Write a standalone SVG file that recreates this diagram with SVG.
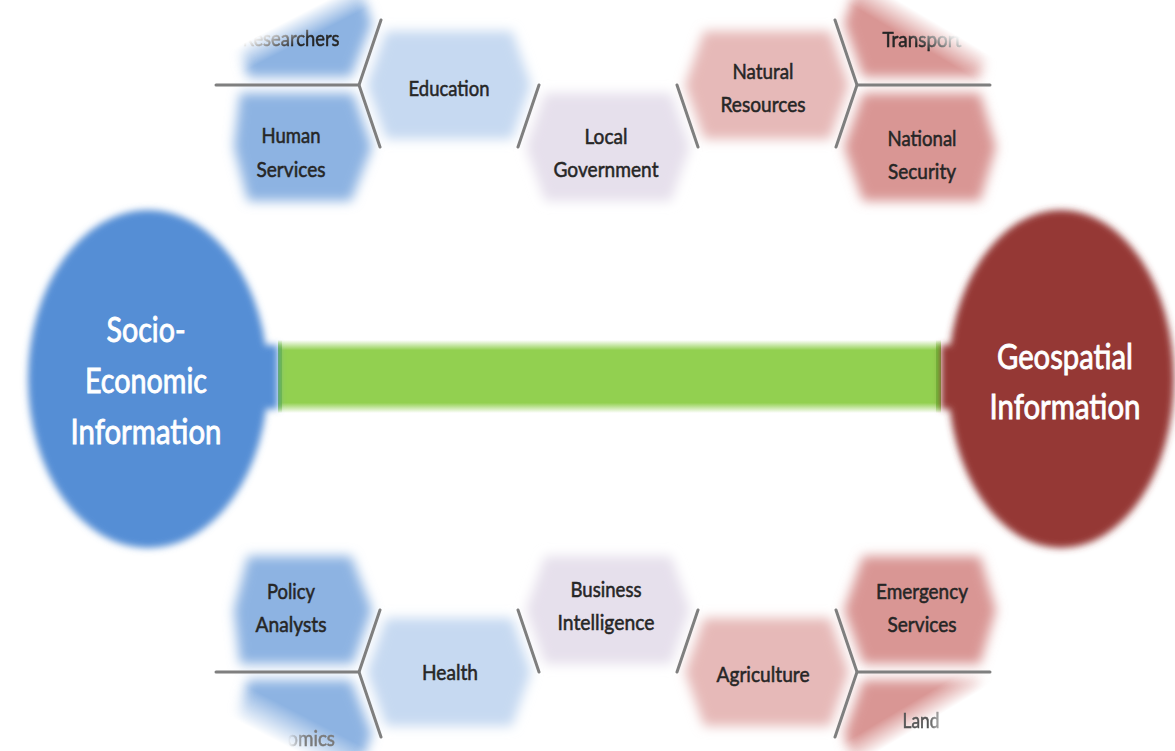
<svg xmlns="http://www.w3.org/2000/svg" width="1175" height="751" viewBox="0 0 1175 751">
<style>
.t{font-family:Lato,"Open Sans","Liberation Sans",sans-serif;font-size:22px;fill:#262626;stroke:#262626;stroke-width:0.55;text-anchor:middle}
.big{font-family:Lato,"Open Sans","Liberation Sans",sans-serif;font-size:35px;fill:#ffffff;stroke:#ffffff;stroke-width:0.9;text-anchor:middle}
.ln{stroke:#7f7f7f;stroke-width:3;fill:none;stroke-linecap:round}
.hs{fill:#8db3e2}
.ed{fill:#c6d9f1}
.lg{fill:#e6e0ec}
.nr{fill:#e6b9b8}
.ns{fill:#d99694}
</style>
<defs>
<filter id="soft" x="-30%" y="-30%" width="160%" height="160%"><feGaussianBlur stdDeviation="6"/></filter>
<filter id="soft2" x="-10%" y="-10%" width="120%" height="120%"><feGaussianBlur stdDeviation="3.5"/></filter>
<filter id="lnb" x="-10%" y="-10%" width="120%" height="120%"><feGaussianBlur stdDeviation="0.6"/></filter>
<linearGradient id="gBar" x1="0" y1="0" x2="0" y2="1">
<stop offset="0" stop-color="#92d050" stop-opacity="0"/>
<stop offset="0.14" stop-color="#92d050"/>
<stop offset="0.86" stop-color="#92d050"/>
<stop offset="1" stop-color="#92d050" stop-opacity="0"/>
</linearGradient>
<linearGradient id="gStrip" x1="0" y1="0" x2="0" y2="1">
<stop offset="0" stop-color="#70bd3a" stop-opacity="0"/>
<stop offset="0.14" stop-color="#70bd3a"/>
<stop offset="0.86" stop-color="#70bd3a"/>
<stop offset="1" stop-color="#70bd3a" stop-opacity="0"/>
</linearGradient>
<linearGradient id="lfL" gradientUnits="userSpaceOnUse" x1="216" y1="0" x2="240" y2="0">
<stop offset="0" stop-color="#7f7f7f" stop-opacity="0"/><stop offset="1" stop-color="#7f7f7f"/>
</linearGradient>
<linearGradient id="lfR" gradientUnits="userSpaceOnUse" x1="990" y1="0" x2="958" y2="0">
<stop offset="0" stop-color="#7f7f7f" stop-opacity="0"/><stop offset="1" stop-color="#7f7f7f"/>
</linearGradient>
<linearGradient id="mgTL" gradientUnits="userSpaceOnUse" x1="80.5" y1="155.75" x2="69" y2="133.5">
<stop offset="0" stop-color="#fff"/><stop offset="1" stop-color="#000"/>
</linearGradient>
<linearGradient id="mgTR" gradientUnits="userSpaceOnUse" x1="219.3" y1="-369.8" x2="233.6" y2="-393.9">
<stop offset="0" stop-color="#fff"/><stop offset="1" stop-color="#000"/>
</linearGradient>
<linearGradient id="mgBL" gradientUnits="userSpaceOnUse" x1="-227.7" y1="440.6" x2="-243.8" y2="471.7">
<stop offset="0" stop-color="#fff"/><stop offset="1" stop-color="#000"/>
</linearGradient>
<linearGradient id="mgBLt" gradientUnits="userSpaceOnUse" x1="306" y1="0" x2="288" y2="0">
<stop offset="0" stop-color="#fff"/><stop offset="1" stop-color="#000"/>
</linearGradient>
<linearGradient id="mgBR" gradientUnits="userSpaceOnUse" x1="545.7" y1="920.2" x2="558.5" y2="941.7">
<stop offset="0" stop-color="#fff"/><stop offset="1" stop-color="#000"/>
</linearGradient>
<linearGradient id="mgBRt" gradientUnits="userSpaceOnUse" x1="928" y1="0" x2="950" y2="0">
<stop offset="0" stop-color="#fff"/><stop offset="1" stop-color="#000"/>
</linearGradient>
<mask id="mTL" maskUnits="userSpaceOnUse" x="0" y="-100" width="1175" height="951"><rect x="0" y="-100" width="1175" height="951" fill="url(#mgTL)"/></mask>
<mask id="mTR" maskUnits="userSpaceOnUse" x="0" y="-100" width="1175" height="951"><rect x="0" y="-100" width="1175" height="951" fill="url(#mgTR)"/></mask>
<mask id="mBL" maskUnits="userSpaceOnUse" x="0" y="-100" width="1175" height="951"><rect x="0" y="-100" width="1175" height="951" fill="url(#mgBL)"/></mask>
<mask id="mBLt" maskUnits="userSpaceOnUse" x="0" y="-100" width="1175" height="951"><rect x="0" y="-100" width="1175" height="951" fill="url(#mgBLt)"/></mask>
<mask id="mBR" maskUnits="userSpaceOnUse" x="0" y="-100" width="1175" height="951"><rect x="0" y="-100" width="1175" height="951" fill="url(#mgBR)"/></mask>
<mask id="mBRt" maskUnits="userSpaceOnUse" x="0" y="-100" width="1175" height="951"><rect x="0" y="-100" width="1175" height="951" fill="url(#mgBRt)"/></mask>
</defs>
<rect width="1175" height="751" fill="#ffffff"/>

<!-- connector: green bar between the two ellipses -->
<g id="connectors">
<rect x="278" y="340" width="663" height="73" fill="url(#gBar)"/>
<rect x="278" y="340" width="4" height="73" fill="url(#gStrip)"/>
<rect x="936" y="340" width="5" height="73" fill="url(#gStrip)"/>
</g>

<g id="socio-economic">
<g filter="url(#soft2)" fill="#558ed5">
<ellipse cx="148" cy="379" rx="120" ry="169"/>
<rect x="236" y="345" width="42" height="64"/>
</g>
<text class="big" x="146" y="342" textLength="79" lengthAdjust="spacingAndGlyphs">Socio-</text>
<text class="big" x="146" y="393" textLength="122" lengthAdjust="spacingAndGlyphs">Economic</text>
<text class="big" x="146" y="444" textLength="151" lengthAdjust="spacingAndGlyphs">Information</text>
</g>

<g id="geospatial">
<g filter="url(#soft2)" fill="#953735">
<ellipse cx="1061" cy="379" rx="113" ry="169"/>
<rect x="941" y="345" width="40" height="64"/>
</g>
<text class="big" x="1065" y="369" textLength="136" lengthAdjust="spacingAndGlyphs">Geospatial</text>
<text class="big" x="1065" y="419" textLength="151" lengthAdjust="spacingAndGlyphs">Information</text>
</g>

<!-- top cluster -->
<g id="researchers" mask="url(#mTL)">
<polygon class="hs" filter="url(#soft)" points="232,23 248,-31 353,-31 372,23 351,77 248,77"/>
<text class="t" x="291" y="46" textLength="97" lengthAdjust="spacingAndGlyphs">Researchers</text>
</g>
<g id="human-services">
<polygon class="hs" filter="url(#soft)" points="240,93 353,93 372,147 351,201 248,201 234,147"/>
<text class="t" x="291" y="143" textLength="59" lengthAdjust="spacingAndGlyphs">Human</text>
<text class="t" x="291" y="177" textLength="69" lengthAdjust="spacingAndGlyphs">Services</text>
</g>
<g id="education">
<polygon class="ed" filter="url(#soft)" points="367,85 386,31 512,31 531,85 512,139 386,139"/>
<text class="t" x="449" y="96" textLength="81" lengthAdjust="spacingAndGlyphs">Education</text>
</g>
<g id="local-government">
<polygon class="lg" filter="url(#soft)" points="526,147 545,93 671,93 690,147 671,201 545,201"/>
<text class="t" x="606" y="144" textLength="43" lengthAdjust="spacingAndGlyphs">Local</text>
<text class="t" x="606" y="177" textLength="105" lengthAdjust="spacingAndGlyphs">Government</text>
</g>
<g id="natural-resources">
<polygon class="nr" filter="url(#soft)" points="685,85 704,31 830,31 849,85 830,139 704,139"/>
<text class="t" x="763" y="79" textLength="61" lengthAdjust="spacingAndGlyphs">Natural</text>
<text class="t" x="763" y="112" textLength="85" lengthAdjust="spacingAndGlyphs">Resources</text>
</g>
<g id="transport" mask="url(#mTR)">
<polygon class="ns" filter="url(#soft)" points="863,-31 980,-31 998,23 980,77 863,77 844,23"/>
<text class="t" x="922" y="47" textLength="79" lengthAdjust="spacingAndGlyphs">Transport</text>
</g>
<g id="national-security">
<polygon class="ns" filter="url(#soft)" points="863,93 980,93 996,147 980,201 863,201 844,147"/>
<text class="t" x="922" y="146" textLength="69" lengthAdjust="spacingAndGlyphs">National</text>
<text class="t" x="922" y="179" textLength="68" lengthAdjust="spacingAndGlyphs">Security</text>
</g>

<!-- bottom cluster -->
<g id="policy-analysts">
<polygon class="hs" filter="url(#soft)" points="240,664 353,664 372,610 351,556 248,556 234,610"/>
<text class="t" x="291" y="599" textLength="48" lengthAdjust="spacingAndGlyphs">Policy</text>
<text class="t" x="291" y="632" textLength="71" lengthAdjust="spacingAndGlyphs">Analysts</text>
</g>
<g id="economics">
<polygon class="hs" filter="url(#soft)" points="248,680 351,680 372,734 351,788 248,788 232,734" mask="url(#mBL)"/>
<text class="t" x="291" y="746" textLength="88" lengthAdjust="spacingAndGlyphs" mask="url(#mBLt)" style="fill:#7a7a7a;stroke:#7a7a7a">Economics</text>
</g>
<g id="health">
<polygon class="ed" filter="url(#soft)" points="367,672 386,618 512,618 531,672 512,726 386,726"/>
<text class="t" x="450" y="680" textLength="56" lengthAdjust="spacingAndGlyphs">Health</text>
</g>
<g id="business-intelligence">
<polygon class="lg" filter="url(#soft)" points="526,610 545,556 671,556 690,610 671,664 545,664"/>
<text class="t" x="606" y="597" textLength="71" lengthAdjust="spacingAndGlyphs">Business</text>
<text class="t" x="606" y="630" textLength="97" lengthAdjust="spacingAndGlyphs">Intelligence</text>
</g>
<g id="agriculture">
<polygon class="nr" filter="url(#soft)" points="685,672 704,618 830,618 849,672 830,726 704,726"/>
<text class="t" x="763" y="682" textLength="93" lengthAdjust="spacingAndGlyphs">Agriculture</text>
</g>
<g id="emergency-services">
<polygon class="ns" filter="url(#soft)" points="863,664 980,664 996,610 980,556 863,556 844,610"/>
<text class="t" x="922" y="599" textLength="92" lengthAdjust="spacingAndGlyphs">Emergency</text>
<text class="t" x="922" y="632" textLength="69" lengthAdjust="spacingAndGlyphs">Services</text>
</g>
<g id="land">
<polygon class="ns" filter="url(#soft)" points="863,680 980,680 998,734 980,788 863,788 844,734" mask="url(#mBR)"/>
<text class="t" x="921" y="728" textLength="37" lengthAdjust="spacingAndGlyphs" mask="url(#mBRt)" style="fill:#555;stroke:#555">Land</text>
</g>

<!-- hex borders -->
<g id="borders" filter="url(#lnb)">
<path class="ln" d="M216,85 L359,85" stroke="url(#lfL)"/>
<path class="ln" d="M359,85 L381,20 M359,85 L380,147 M539,85 L518,147 M677,85 L698,147 M857,85 L835,20 M857,85 L836,147"/>
<path class="ln" d="M857,85 L990,85" stroke="url(#lfR)"/>
<path class="ln" d="M216,672 L359,672" stroke="url(#lfL)"/>
<path class="ln" d="M359,672 L380,610 M359,672 L381,737 M518,610 L539,672 M698,610 L677,672 M857,672 L836,610 M857,672 L835,737"/>
<path class="ln" d="M857,672 L990,672" stroke="url(#lfR)"/>
</g>
</svg>
